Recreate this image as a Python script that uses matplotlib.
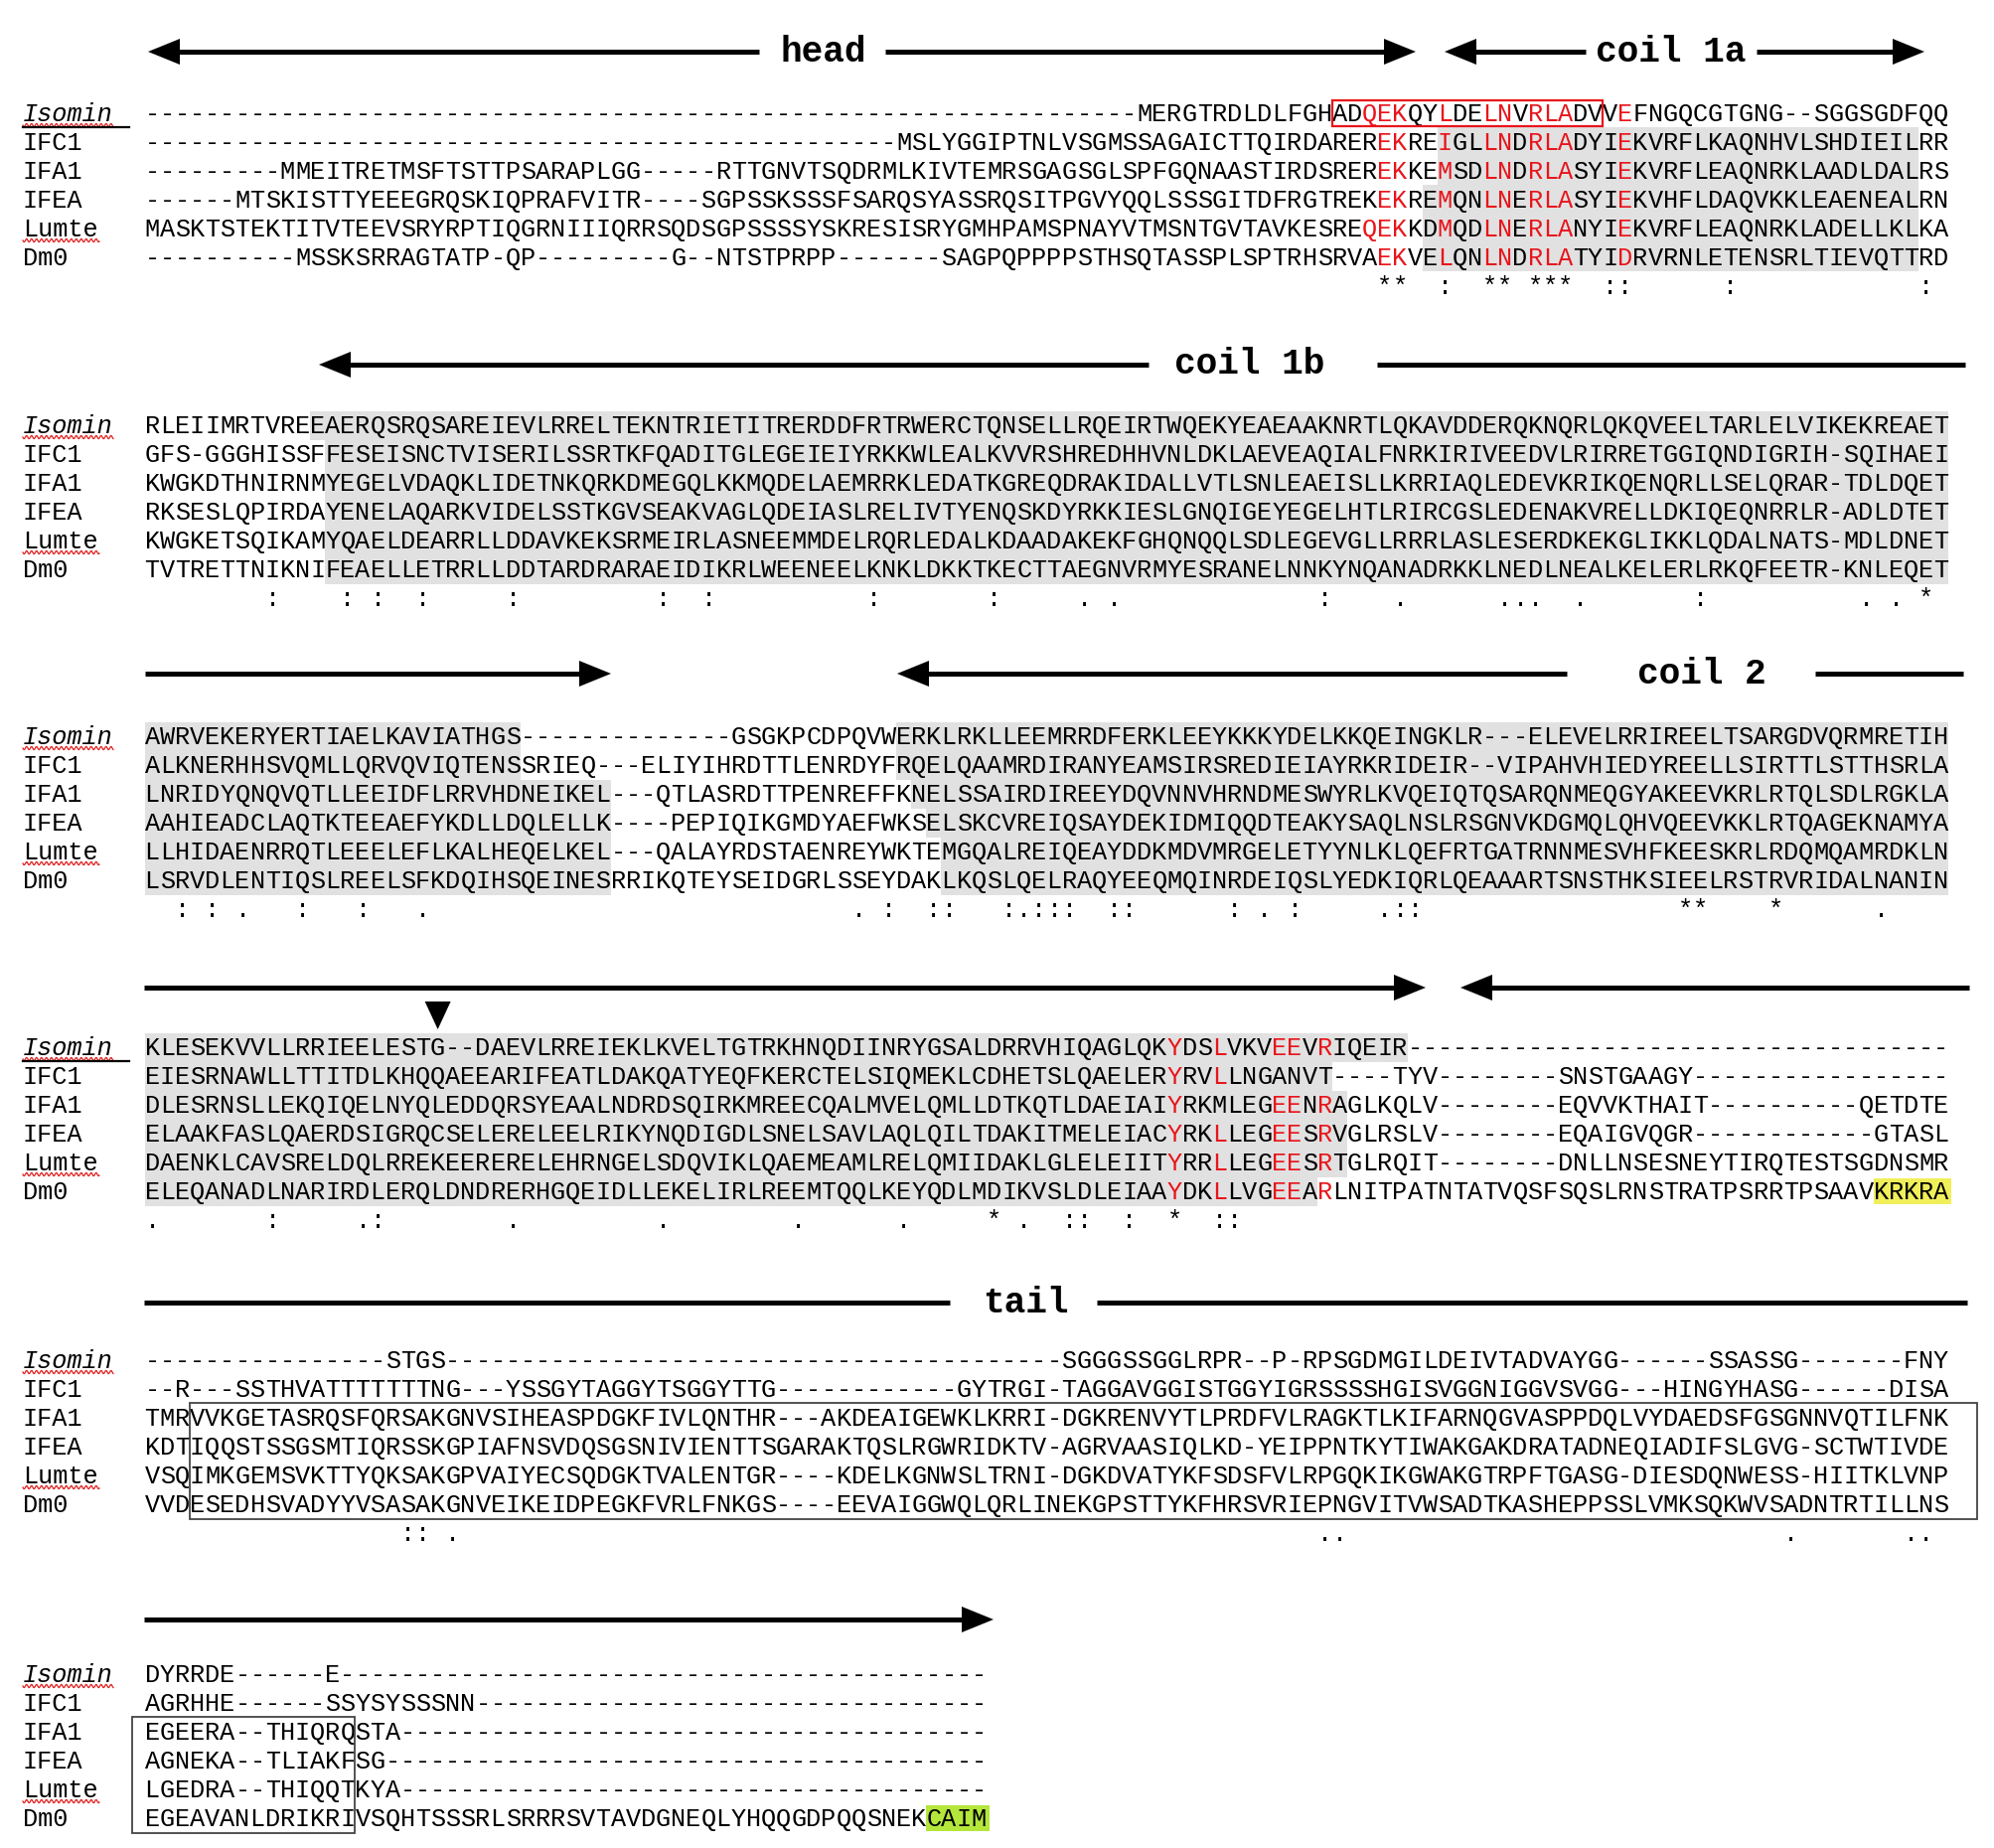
import numpy as np
import matplotlib.pyplot as plt
from matplotlib.patches import Rectangle, Polygon

# sequence names and alignment blocks (Isomin, IFC1, IFA1, IFEA, Lumte, Dm0)
names = ['Isomin', 'IFC1', 'IFA1', 'IFEA', 'Lumte', 'Dm0']

block1 = [
    '-' * 66 + 'MERGTRDLDLFGHADQEKQYLDELNVRLADVVEFNGQCGTGNG--SGGSGDFQQ',
    '-' * 50 + 'MSLYGGIPTNLVSGMSSAGAICTTQIRDAREREKREIGLLNDRLADYIEKVRFLKAQNHVLSHDIEILRR',
    '-' * 9 + 'MMEITRETMSFTSTTPSARAPLGG' + '-' * 5
    + 'RTTGNVTSQDRMLKIVTEMRSGAGSGLSPFGQNAASTIRDSREREKKEMSDLNDRLASYIEKVRFLEAQNRKLAADLDALRS',
    '-' * 6 + 'MTSKISTTYEEEGRQSKIQPRAFVITR' + '-' * 4
    + 'SGPSSKSSSFSARQSYASSRQSITPGVYQQLSSSGITDFRGTREKEKREMQNLNERLASYIEKVHFLDAQVKKLEAENEALRN',
    'MASKTSTEKTITVTEEVSRYRPTIQGRNIIIQRRSQDSGPSSSSYSKRESISRYGMHPAMSPNAYVTMSNTGVTAVKESREQEKKDMQDLNERLANYIEKVRFLEAQNRKLADELLKLKA',
    '-' * 10 + 'MSSKSRRAGTATP-QP' + '-' * 9 + 'G--NTSTPRPP' + '-' * 7
    + 'SAGPQPPPPSTHSQTASSPLSPTRHSRVAEKVELQNLNDRLATYIDRVRNLETENSRLTIEVQTTRD',
]
block2 = [
    'RLEIIMRTVREEAERQSRQSAREIEVLRRELTEKNTRIETITRERDDFRTRWERCTQNSELLRQEIRTWQEKYEAEAAKNRTLQKAVDDERQKNQRLQKQVEELTARLELVIKEKREAET',
    'GFS-GGGHISSFFESEISNCTVISERILSSRTKFQADITGLEGEIEIYRKKWLEALKVVRSHREDHHVNLDKLAEVEAQIALFNRKIRIVEEDVLRIRRETGGIQNDIGRIH-SQIHAEI',
    'KWGKDTHNIRNMYEGELVDAQKLIDETNKQRKDMEGQLKKMQDELAEMRRKLEDATKGREQDRAKIDALLVTLSNLEAEISLLKRRIAQLEDEVKRIKQENQRLLSELQRAR-TDLDQET',
    'RKSESLQPIRDAYENELAQARKVIDELSSTKGVSEAKVAGLQDEIASLRELIVTYENQSKDYRKKIESLGNQIGEYEGELHTLRIRCGSLEDENAKVRELLDKIQEQNRRLR-ADLDTET',
    'KWGKETSQIKAMYQAELDEARRLLDDAVKEKSRMEIRLASNEEMMDELRQRLEDALKDAADAKEKFGHQNQQLSDLEGEVGLLRRRLASLESERDKEKGLIKKLQDALNATS-MDLDNET',
    'TVTRETTNIKNIFEAELLETRRLLDDTARDRARAEIDIKRLWEENEELKNKLDKKTKECTTAEGNVRMYESRANELNNKYNQANADRKKLNEDLNEALKELERLRKQFEETR-KNLEQET',
]
block3 = [
    'AWRVEKERYERTIAELKAVIATHGS' + '-' * 14 + 'GSGKPCDPQVWERKLRKLLEEMRRDFERKLEEYKKKYDELKKQEINGKLR'
    + '---' + 'ELEVELRRIREELTSARGDVQRMRETIH',
    'ALKNERHHSVQMLLQRVQVIQTENSSRIEQ---ELIYIHRDTTLENRDYFRQELQAAMRDIRANYEAMSIRSREDIEIAYRKRIDEIR--VIPAHVHIEDYREELLSIRTTLSTTHSRLA',
    'LNRIDYQNQVQTLLEEIDFLRRVHDNEIKEL---QTLASRDTTPENREFFKNELSSAIRDIREEYDQVNNVHRNDMESWYRLKVQEIQTQSARQNMEQGYAKEEVKRLRTQLSDLRGKLA',
    'AAHIEADCLAQTKTEEAEFYKDLLDQLELLK----PEPIQIKGMDYAEFWKSELSKCVREIQSAYDEKIDMIQQDTEAKYSAQLNSLRSGNVKDGMQLQHVQEEVKKLRTQAGEKNAMYA',
    'LLHIDAENRRQTLEEELEFLKALHEQELKEL---QALAYRDSTAENREYWKTEMGQALREIQEAYDDKMDVMRGELETYYNLKLQEFRTGATRNNMESVHFKEESKRLRDQMQAMRDKLN',
    'LSRVDLENTIQSLREELSFKDQIHSQEINESRRIKQTEYSEIDGRLSSEYDAKLKQSLQELRAQYEEQMQINRDEIQSLYEDKIQRLQEAAARTSNSTHKSIEELRSTRVRIDALNANIN',
]
block4 = [
    'KLESEKVVLLRRIEELESTG--DAEVLRREIEKLKVELTGTRKHNQDIINRYGSALDRRVHIQAGLQKYDSLVKVEEVRIQEIR' + '-' * 36,
    'EIESRNAWLLTTITDLKHQQAEEARIFEATLDAKQATYEQFKERCTELSIQMEKLCDHETSLQAELERYRVLLNGANVT'
    + '----TYV' + '-' * 8 + 'SNSTGAAGY' + '-' * 17,
    'DLESRNSLLEKQIQELNYQLEDDQRSYEAALNDRDSQIRKMREECQALMVELQMLLDTKQTLDAEIAIYRKMLEGEENRAGLKQLV'
    + '-' * 8 + 'EQVVKTHAIT' + '-' * 10 + 'QETDTE',
    'ELAAKFASLQAERDSIGRQCSELERELEELRIKYNQDIGDLSNELSAVLAQLQILTDAKITMELEIACYRKLLEGEESRVGLRSLV'
    + '-' * 8 + 'EQAIGVQGR' + '-' * 12 + 'GTASL',
    'DAENKLCAVSRELDQLRREKEERERELEHRNGELSDQVIKLQAEMEAMLRELQMIIDAKLGLELEIITYRRLLEGEESRTGLRQIT'
    + '-' * 8 + 'DNLLNSESNEYTIRQTESTSGDNSMR',
    'ELEQANADLNARIRDLERQLDNDRERHGQEIDLLEKELIRLREEMTQQLKEYQDLMDIKVSLDLEIAAYDKLLVGEEARLNITPATNTATVQSFSQSLRNSTRATPSRRTPSAAVKRKRA',
]
block5 = [
    '-' * 16 + 'STGS' + '-' * 41 + 'SGGGSSGGLRPR--P-RPSGDMGILDEIVTADVAYGG------SSASSG-------FNY',
    '--R---SSTHVATTTTTTTNG---YSSGYTAGGYTSGGYTTG' + '-' * 12
    + 'GYTRGI-TAGGAVGGISTGGYIGRSSSSHGISVGGNIGGVSVGG---HINGYHASG------DISA',
    'TMRVVKGETASRQSFQRSAKGNVSIHEASPDGKFIVLQNTHR---AKDEAIGEWKLKRRI-DGKRENVYTLPRDFVLRAGKTLKIFARNQGVASPPDQLVYDAEDSFGSGNNVQTILFNK',
    'KDTIQQSTSSGSMTIQRSSKGPIAFNSVDQSGSNIVIENTTSGARAKTQSLRGWRIDKTV-AGRVAASIQLKD-YEIPPNTKYTIWAKGAKDRATADNEQIADIFSLGVG-SCTWTIVDE',
    'VSQIMKGEMSVKTTYQKSAKGPVAIYECSQDGKTVALENTGR----KDELKGNWSLTRNI-DGKDVATYKFSDSFVLRPGQKIKGWAKGTRPFTGASG-DIESDQNWESS-HIITKLVNP',
    'VVDESEDHSVADYYVSASAKGNVEIKEIDPEGKFVRLFNKGS----EEVAIGGWQLQRLINEKGPSTTYKFHRSVRIEPNGVITVWSADTKASHEPPSSLVMKSQKWVSADNTRTILLNS',
]
block6 = [
    'DYRRDE------E' + '-' * 43,
    'AGRHHE------SSYSYSSSNN' + '-' * 34,
    'EGEERA--THIQRQSTA' + '-' * 39,
    'AGNEKA--TLIAKFSG' + '-' * 40,
    'LGEDRA--THIQQTKYA' + '-' * 39,
    'EGEAVANLDRIKRIVSQHTSSSRLSRRRSVTAVDGNEQLYHQQGDPQQSNEKCAIM',
]
blocks = [block1, block2, block3, block4, block5, block6]

# residues printed in red, per block and row
red1_iso = [81, 82, 83, 86, 89, 90, 92, 93, 94, 98]
red1_all = [82, 83, 86, 89, 90, 92, 93, 94, 98]
red4_all = [68, 71, 75, 76, 78]
red_cols = [
    [red1_iso, red1_all, red1_all, red1_all, red1_iso, red1_all],
    [[]] * 6,
    [[]] * 6,
    [red4_all, [68, 71], [68, 75, 76, 78], red4_all, red4_all, red4_all],
    [[]] * 6,
    [[]] * 6,
]

# grey shaded column ranges (rod domain), per block and row
shade = [
    [[], [(86, 117)], [(86, 117)], [(85, 117)], [(85, 117)], [(85, 117)]],
    [[(11, 119)]] + [[(12, 119)]] * 5,
    [[(0, 24), (50, 119)], [(0, 24), (50, 119)], [(0, 30), (51, 119)],
     [(0, 30), (52, 119)], [(0, 30), (53, 119)], [(0, 30), (53, 119)]],
    [[(0, 83)], [(0, 78)], [(0, 79)], [(0, 79)], [(0, 79)], [(0, 77)]],
    [[]] * 6,
    [[]] * 6,
]

# consensus line
cons_star = [[82, 83, 89, 90, 92, 93, 94], [118], [102, 103, 108], [56, 68], [], []]
cons_colon = [[86, 97, 98, 105, 118],
              [8, 13, 15, 18, 24, 34, 37, 48, 56, 78, 103],
              [2, 4, 10, 14, 49, 52, 53, 57, 59, 60, 61, 64, 65, 72, 76, 83, 84],
              [8, 15, 61, 62, 65, 71, 72],
              [17, 18], []]
cons_dot = [[], [62, 64, 83, 90, 91, 92, 95, 114, 116],
            [6, 18, 47, 58, 74, 82, 115],
            [0, 14, 24, 34, 43, 50, 58],
            [20, 78, 79, 109, 117, 118], [2]]

# layout (pixels)
W, H = 2008, 1860
X0 = 145.6
CW = 15.13
block_y = [114, 428, 741, 1054, 1369, 1685]
DY = 29
FS = 18.2
MONO = 'Liberation Mono'
RED = '#e8151b'
GREY = '#e1e1e1'


def cx(c):
    return X0 + (c + 0.5) * CW


fig = plt.figure(figsize=(W / 100, H / 100), dpi=100)
ax = fig.add_axes([0, 0, 1, 1])
ax.set_xlim(0, W)
ax.set_ylim(H, 0)
ax.axis('off')


def arrow(y, x0, x1, left=False, right=False):
    hl, hw = 32, 13
    xa = x0 + (hl - 2 if left else 0)
    xb = x1 - (hl - 2 if right else 0)
    ax.plot([xa, xb], [y, y], color='black', lw=3.6, solid_capstyle='butt')
    if left:
        ax.add_patch(Polygon([[x0, y], [x0 + hl, y - hw], [x0 + hl, y + hw]], closed=True,
                             color='black', lw=0))
    if right:
        ax.add_patch(Polygon([[x1, y], [x1 - hl, y - hw], [x1 - hl, y + hw]], closed=True,
                             color='black', lw=0))


# domain arrows above each block
header_y = [52, 367, 678, 994, 1311, 1630]
header_arrows = [
    [(149, 764, True, False), (891, 1425, False, True), (1454, 1596, True, False), (1768, 1937, False, True)],
    [(321, 1156, True, False), (1386, 1978, False, False)],
    [(146, 615, False, True), (903, 1577, True, False), (1827, 1976, False, False)],
    [(145, 1435, False, True), (1470, 1982, True, False)],
    [(145, 956, False, False), (1104, 1980, False, False)],
    [(145, 1000, False, True)],
]
header_labels = [[('head', 829), ('coil 1a', 1682)], [('coil 1b', 1258)],
                 [('coil 2', 1713)], [], [('tail', 1032)], []]

for b in range(6):
    for (x0, x1, l, r) in header_arrows[b]:
        arrow(header_y[b], x0, x1, l, r)
    for (lab, xc) in header_labels[b]:
        ax.text(xc, header_y[b], lab, ha='center', va='center', fontsize=26,
                fontweight='bold', family=MONO)


def squiggle(x0, x1, y):
    xs = np.linspace(x0, x1, 200)
    ax.plot(xs, y + 1.6 * np.sin(2 * np.pi * (xs - x0) / 5.0), color='#e02020', lw=0.9)


for b, blk in enumerate(blocks):
    y0 = block_y[b]
    for r, seq in enumerate(blk):
        y = y0 + r * DY
        for (c0, c1) in shade[b][r]:
            ax.add_patch(Rectangle((X0 + c0 * CW, y - DY / 2), (c1 - c0 + 1) * CW, DY,
                                   facecolor=GREY, edgecolor='none', zorder=0))
        nm = names[r]
        ax.text(23, y + 8, nm, ha='left', va='baseline', fontsize=FS, family=MONO,
                fontstyle='italic' if nm == 'Isomin' else 'normal')
        if nm == 'Isomin':
            squiggle(23, 114, y + 12)
            if b in (0, 3):
                ax.plot([23, 130], [y + 14, y + 14], color='black', lw=1.6)
        if nm == 'Lumte':
            squiggle(23, 100, y + 12)
        for c, ch in enumerate(seq):
            col = RED if c in red_cols[b][r] else 'black'
            ax.text(cx(c), y + 8, ch, ha='center', va='baseline', fontsize=FS,
                    family=MONO, color=col, zorder=3)
    yc = y0 + 6 * DY
    for sym, cols in (('*', cons_star[b]), (':', cons_colon[b]), ('.', cons_dot[b])):
        for c in cols:
            ax.text(cx(c), yc + 8, sym, ha='center', va='baseline', fontsize=FS,
                    family=MONO, zorder=3)

# highlighted C-terminal motifs
ax.add_patch(Rectangle((X0 + 115 * CW, block_y[3] + 5 * DY - 13), 5 * CW + 3, 26,
                       facecolor='#f0ef5a', edgecolor='none', zorder=1))
ax.add_patch(Rectangle((X0 + 52 * CW, block_y[5] + 5 * DY - 13), 4 * CW + 3, 26,
                       facecolor='#b4e63c', edgecolor='none', zorder=1))

# boxed regions
ax.add_patch(Rectangle((X0 + 79 * CW, block_y[0] - 13), 18 * CW, 26, fill=False,
                       edgecolor=RED, lw=1.6, zorder=4))
ax.add_patch(Rectangle((X0 + 3 * CW, block_y[4] + 2 * DY - 15), 1990 - (X0 + 3 * CW), 3 * DY + 30,
                       fill=False, edgecolor='#444444', lw=1.3, zorder=4))
ax.add_patch(Rectangle((133, block_y[5] + 2 * DY - 15), X0 + 14 * CW - 133, 3 * DY + 30,
                       fill=False, edgecolor='#444444', lw=1.3, zorder=4))

# cleavage site marker
tx = cx(19)
ax.add_patch(Polygon([[tx - 13, 1008], [tx + 13, 1008], [tx, 1036]], closed=True,
                     color='black', lw=0))

fig.savefig('out.png', dpi=100, facecolor='white')
